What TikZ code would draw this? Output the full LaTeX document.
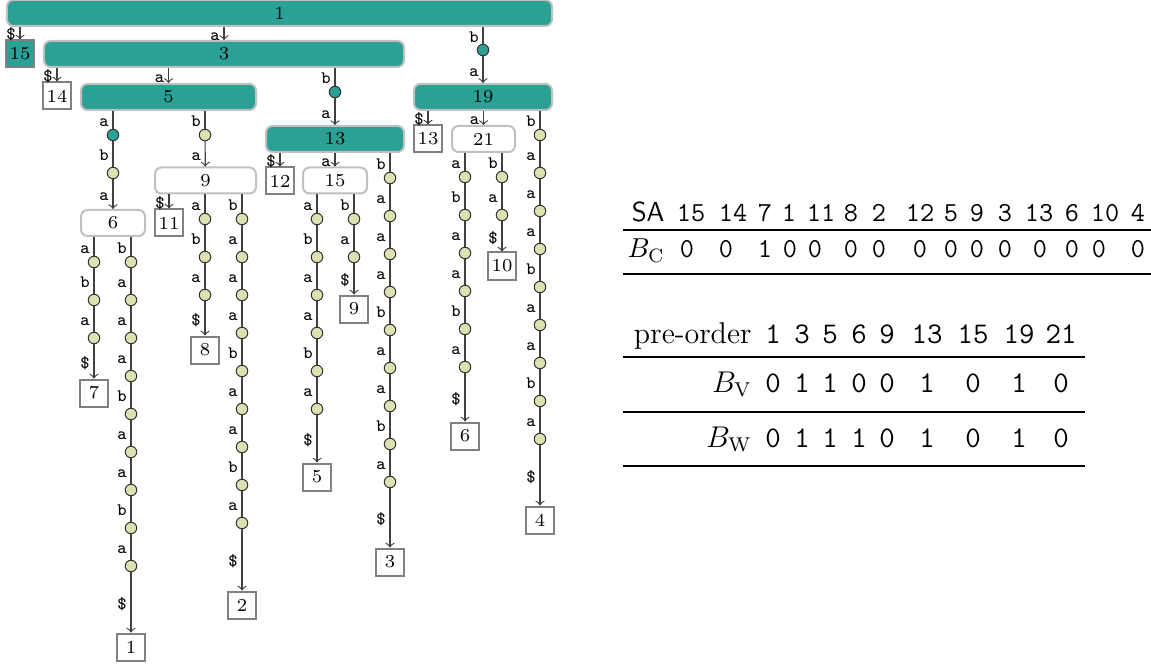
\documentclass[tikz,border=0pt]{standalone}
\usepackage{fontspec}
\usepackage{tikz}
\definecolor{trteal}{RGB}{43,160,148}
\definecolor{trdot}{RGB}{221,225,178}
\definecolor{trrim}{RGB}{192,192,192}
\definecolor{trleaf}{RGB}{128,128,128}

% one path of single letters from a node down to a leaf
\newcommand{\leafchain}[6]{%
  \foreach \ltr [count=\i] in {#5} {%
    \node[bead] (#2\i) at (#3, {#4+38*(\i-1)}) {};
    \ifnum\i=1
      \draw[link] (#1.south -| #2\i) -- node[lbl] {\ltr} (#2\i);
    \else
      \pgfmathtruncatemacro{\prv}{\i-1}
      \draw[link] (#2\prv) -- node[lbl] {\ltr} (#2\i);
    \fi
    \xdef\lastdot{#2\i}
  }
  \draw[link, ->] (\lastdot) -- node[lbl] {\$} (#6);
}

\begin{document}
\begin{tikzpicture}[
  x=0.4pt, y=-0.4pt,
  inode/.style={rectangle, rounded corners=2.6pt, draw=trrim, line width=0.8pt,
                fill=trteal, minimum height=10.4pt, inner sep=0pt,
                font=\fontsize{7.3}{8}\selectfont},
  hollow/.style={inode, fill=white},
  leaf/.style={rectangle, draw=trleaf, line width=0.8pt, fill=white,
               minimum width=11pt, minimum height=10.8pt, inner sep=0pt,
               font=\fontsize{7.3}{8}\selectfont},
  bead/.style={circle, draw=black!80, line width=0.4pt, fill=trdot,
               minimum size=4.6pt, inner sep=0pt},
  hub/.style={bead, fill=trteal},
  link/.style={draw=black!75, line width=0.45pt},
  lbl/.style={left, inner sep=1.5pt, font=\fontsize{7}{8}\selectfont\ttfamily,
              text height=1.5ex, text depth=.25ex},
  tcell/.style={anchor=base, inner sep=0pt, font=\fontsize{11}{13}\selectfont\ttfamily},
  pcell/.style={anchor=base, inner sep=0pt, font=\fontsize{12}{14}\selectfont\ttfamily},
  thead/.style={anchor=base east, inner sep=0pt},
]
\useasboundingbox (0,0) rectangle (1151,665);

% ── branching nodes ──
\node[inode, minimum width=218pt]    (n1)  at (279.5,13)    {1};
\node[inode, minimum width=144pt]    (n3)  at (224,54)      {3};
\node[inode, minimum width=70pt]     (n5)  at (168.5,97)    {5};
\node[hollow, minimum width=25.6pt]  (n6)  at (113,223)     {6};
\node[hollow, minimum width=40.4pt]  (n9)  at (205.5,180.5) {9};
\node[inode, minimum width=55.2pt]   (n13) at (335,139)     {13};
\node[hollow, minimum width=25.6pt]  (n15) at (335,180.5)   {15};
\node[inode, minimum width=55.2pt]   (n19) at (483,97)      {19};
\node[hollow, minimum width=25.2pt]  (n21) at (483.5,139)   {21};

% ── leaves ──
\node[leaf, fill=trteal] (l15) at (20,54)   {15};
\node[leaf] (l14) at (57,96)   {14};
\node[leaf] (l13) at (428,139) {13};
\node[leaf] (l12) at (280,181) {12};
\node[leaf] (l11) at (169,223) {11};
\node[leaf] (l7)  at (94,393)  {7};
\node[leaf] (l1)  at (131,647) {1};
\node[leaf] (l8)  at (205,350) {8};
\node[leaf] (l2)  at (242,605) {2};
\node[leaf] (l5)  at (317,477) {5};
\node[leaf] (l9)  at (354,309) {9};
\node[leaf] (l3)  at (390,562) {3};
\node[leaf] (l6)  at (465,436) {6};
\node[leaf] (l10) at (502,266) {10};
\node[leaf] (l4)  at (540,520) {4};

% ── single letter edges ──
\draw[link, ->] (n1.south -| l15) -- node[lbl] {\$} (l15);
\draw[link, ->] (n1.south -| n3)  -- node[lbl] {a} (n3);
\draw[link, ->] (n3.south -| l14) -- node[lbl] {\$} (l14);
\draw[link, ->] (n3.south -| n5)  -- node[lbl] {a} (n5);
\draw[link, ->] (n9.south -| l11) -- node[lbl] {\$} (l11);
\draw[link, ->] (n13.south -| l12) -- node[lbl] {\$} (l12);
\draw[link, ->] (n13.south -| n15) -- node[lbl] {a} (n15);
\draw[link, ->] (n19.south -| l13) -- node[lbl] {\$} (l13);
\draw[link, ->] (n19.south -| n21) -- node[lbl] {a} (n21);

% ── longer edges between branching nodes ──
\node[hub]  (hA)  at (483,50)  {};
\node[hub]  (hB)  at (335,92)  {};
\node[hub]  (hC1) at (113,135) {};
\node[bead] (hC2) at (113,173) {};
\node[bead] (hD)  at (205,135) {};
\draw[link] (n1.south -| hA) -- node[lbl] {b} (hA);
\draw[link, ->] (hA) -- node[lbl] {a} (n19);
\draw[link] (n3.south -| hB) -- node[lbl] {b} (hB);
\draw[link, ->] (hB) -- node[lbl] {a} (n13);
\draw[link] (n5.south -| hC1) -- node[lbl] {a} (hC1);
\draw[link] (hC1) -- node[lbl] {b} (hC2);
\draw[link, ->] (hC2) -- node[lbl] {a} (n6);
\draw[link] (n5.south -| hD) -- node[lbl] {b} (hD);
\draw[link, ->] (hD) -- node[lbl] {a} (n9);

% ── edges down to the leaves ──
\leafchain{n6}{sixa}{94}{262}{a,b,a}{l7}
\leafchain{n6}{sixb}{131}{262}{b,a,a,a,b,a,a,b,a}{l1}
\leafchain{n9}{ninea}{205}{219}{a,b,a}{l8}
\leafchain{n9}{nineb}{242}{219}{b,a,a,a,b,a,a,b,a}{l2}
\leafchain{n15}{fifa}{317}{219}{a,b,a,a,b,a}{l5}
\leafchain{n15}{fifb}{354}{219}{b,a}{l9}
\leafchain{n13}{thirb}{390}{178}{b,a,a,a,b,a,a,b,a}{l3}
\leafchain{n21}{twoa}{465}{177}{a,b,a,a,b,a}{l6}
\leafchain{n21}{twob}{502}{177}{b,a}{l10}
\leafchain{n19}{ninb}{540}{135}{b,a,a,a,b,a,a,b,a}{l4}

% ── suffix array table ──
\node[thead, font=\fontsize{11}{13}\selectfont\sffamily] (sahead) at (665,222) {SA};
\node[thead, font=\fontsize{11}{13}\selectfont] (bchead) at (665,258) {$B_{\mathrm{C}}$};
\foreach \x/\sav/\y/\bcv [count=\i] in {691/15/687/0, 733/14/726/0, 765/7/765/1,
    789/1/790/0, 821/11/815/0, 851/8/851/0, 879/2/879/0, 920/12/920/0, 951/5/951/0,
    977/9/977/0, 1005/3/1005/0, 1039/13/1040/0, 1072/6/1072/0, 1105/10/1099/0,
    1138/4/1138/0} {
  \node[tcell] (sa\i) at (\x,222) {\sav};
  \node[tcell] (bc\i) at (\y,258) {\bcv};
}
\draw[line width=0.8pt] (623,230) -- (1151,230);
\draw[line width=0.8pt] (623,274) -- (1151,274);

% ── pre-order table ──
\node[thead, font=\fontsize{12}{14}\selectfont] (pohead) at (752,343) {pre-order};
\node[thead, font=\fontsize{12}{14}\selectfont] (bvhead) at (752,392) {$B_{\mathrm{V}}$};
\node[thead, font=\fontsize{12}{14}\selectfont] (bwhead) at (752,447) {$B_{\mathrm{W}}$};
\foreach \x/\pov/\bvv/\bwv [count=\i] in {773/1/0/0, 802/3/1/1, 830/5/1/1, 859/6/0/1,
    887/9/0/0, 927/13/1/1, 973/15/0/0, 1019/19/1/1, 1061/21/0/0} {
  \node[pcell] (po\i) at (\x,343) {\pov};
  \node[pcell] (bv\i) at (\x,392) {\bvv};
  \node[pcell] (bw\i) at (\x,447) {\bwv};
}
\draw[line width=0.8pt] (623,357) -- (1085,357);
\draw[line width=0.5pt] (623,412) -- (1085,412);
\draw[line width=0.8pt] (623,466) -- (1085,466);
\end{tikzpicture}
\end{document}
